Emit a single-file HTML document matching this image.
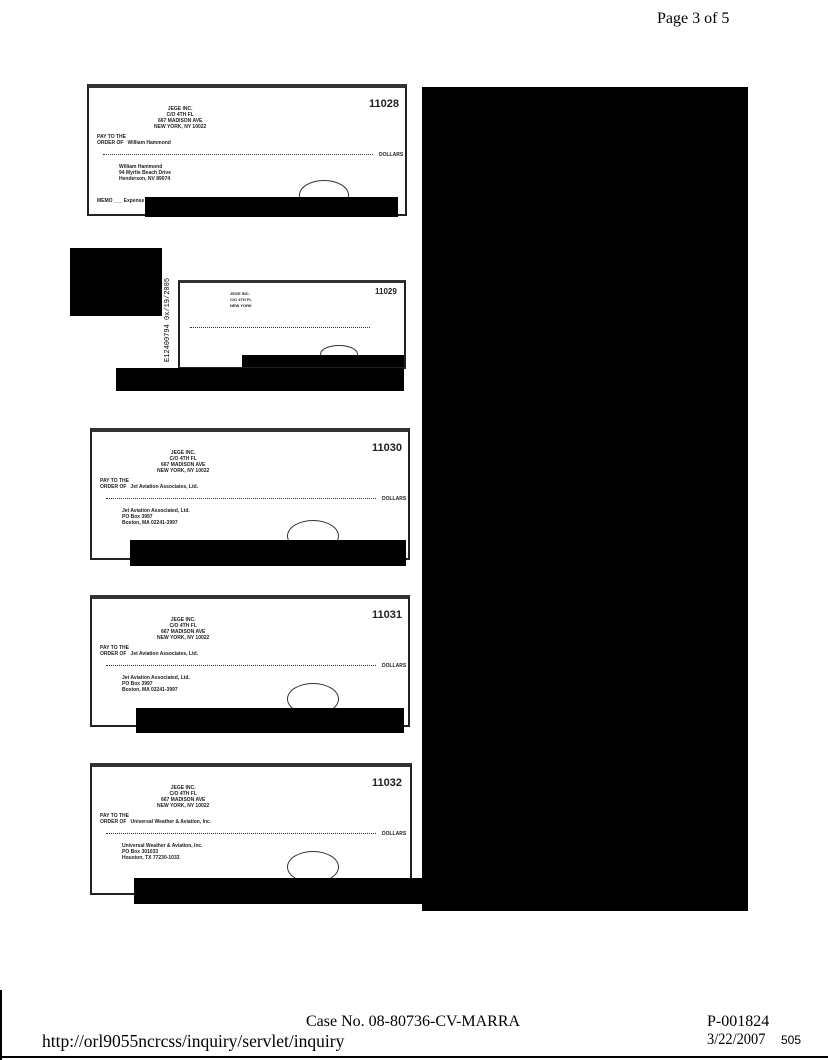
<!DOCTYPE html>
<html><head><style>
body{margin:0;width:828px;height:1060px;background:#fff;position:relative;overflow:hidden;font-family:"Liberation Serif",serif}
.a{position:absolute}
.b{position:absolute;background:#000}
.chk{position:absolute;border:2px solid #222;border-top:4px solid #333;background:#fff;font-family:"Liberation Sans",sans-serif;color:#222}
.chk .t{position:absolute;font-size:5px;font-weight:bold;line-height:6px}
.num{position:absolute;font-weight:bold;font-size:11px}
.line{position:absolute;border-top:1px dotted #333}
</style></head><body>
<div class="a" style="left:657px;top:10px;font-size:16px">Page 3 of 5</div>

<div class="chk" style="left:87px;top:84px;width:316px;height:126px">
 <div class="t" style="left:65px;top:18px;text-align:center">JEGE INC.<br>C/O 4TH FL<br>667 MADISON AVE<br>NEW YORK, NY 10022</div>
 <div class="num" style="left:280px;top:10px">11028</div>
 <div class="t" style="left:8px;top:46px">PAY TO THE<br>ORDER OF &nbsp; William Hammond</div>
 <div class="line" style="left:14px;top:66px;width:270px"></div>
 <div class="t" style="left:290px;top:64px">DOLLARS</div>
 <div class="t" style="left:30px;top:76px">William Hammond<br>94 Myrtle Beach Drive<br>Henderson, NV 89074</div>
 <div class="t" style="left:8px;top:110px">MEMO ___ Expense</div>
 <div class="a" style="left:210px;top:92px;width:48px;height:28px;border:1px solid #333;border-radius:50%"></div>
</div>
<div class="b" style="left:145px;top:197px;width:253px;height:20px"></div>

<div class="b" style="left:70px;top:248px;width:92px;height:68px"></div>
<div class="chk" style="left:178px;top:280px;width:224px;height:84px;border-top-width:3px">
 <div class="num" style="left:195px;top:4px;font-size:8px">11029</div>
 <div class="t" style="left:50px;top:8px;font-size:4px">JEGE INC.<br>C/O 4TH FL<br>NEW YORK</div>
 <div class="line" style="left:10px;top:44px;width:180px"></div>
 <div class="a" style="left:140px;top:62px;width:36px;height:16px;border:1px solid #333;border-radius:50%"></div>
</div>
<div class="b" style="left:242px;top:355px;width:162px;height:12px"></div>
<div class="b" style="left:116px;top:368px;width:288px;height:23px"></div>
<div class="a" style="left:164px;top:362px;font-size:7px;transform:rotate(-90deg);transform-origin:left top;font-family:'Liberation Mono',monospace">E12400794 0x/19/2005</div>

<div class="chk" style="left:90px;top:428px;width:316px;height:126px">
 <div class="t" style="left:65px;top:18px;text-align:center">JEGE INC.<br>C/O 4TH FL<br>667 MADISON AVE<br>NEW YORK, NY 10022</div>
 <div class="num" style="left:280px;top:10px">11030</div>
 <div class="t" style="left:8px;top:46px">PAY TO THE<br>ORDER OF &nbsp; Jet Aviation Associates, Ltd.</div>
 <div class="line" style="left:14px;top:66px;width:270px"></div>
 <div class="t" style="left:290px;top:64px">DOLLARS</div>
 <div class="t" style="left:30px;top:76px">Jet Aviation Associated, Ltd.<br>PO Box 3997<br>Boston, MA 02241-3997</div>
 <div class="a" style="left:195px;top:88px;width:50px;height:30px;border:1px solid #333;border-radius:50%"></div>
</div>
<div class="b" style="left:130px;top:540px;width:276px;height:26px"></div>

<div class="chk" style="left:90px;top:595px;width:316px;height:126px">
 <div class="t" style="left:65px;top:18px;text-align:center">JEGE INC.<br>C/O 4TH FL<br>667 MADISON AVE<br>NEW YORK, NY 10022</div>
 <div class="num" style="left:280px;top:10px">11031</div>
 <div class="t" style="left:8px;top:46px">PAY TO THE<br>ORDER OF &nbsp; Jet Aviation Associates, Ltd.</div>
 <div class="line" style="left:14px;top:66px;width:270px"></div>
 <div class="t" style="left:290px;top:64px">DOLLARS</div>
 <div class="t" style="left:30px;top:76px">Jet Aviation Associated, Ltd.<br>PO Box 3997<br>Boston, MA 02241-3997</div>
 <div class="a" style="left:195px;top:84px;width:50px;height:30px;border:1px solid #333;border-radius:50%"></div>
</div>
<div class="b" style="left:136px;top:708px;width:268px;height:25px"></div>

<div class="chk" style="left:90px;top:763px;width:318px;height:126px">
 <div class="t" style="left:65px;top:18px;text-align:center">JEGE INC.<br>C/O 4TH FL<br>667 MADISON AVE<br>NEW YORK, NY 10022</div>
 <div class="num" style="left:280px;top:10px">11032</div>
 <div class="t" style="left:8px;top:46px">PAY TO THE<br>ORDER OF &nbsp; Universal Weather &amp; Aviation, Inc.</div>
 <div class="line" style="left:14px;top:66px;width:270px"></div>
 <div class="t" style="left:290px;top:64px">DOLLARS</div>
 <div class="t" style="left:30px;top:76px">Universal Weather &amp; Aviation, Inc.<br>PO Box 301033<br>Houston, TX 77230-1033</div>
 <div class="a" style="left:195px;top:84px;width:50px;height:30px;border:1px solid #333;border-radius:50%"></div>
</div>
<div class="b" style="left:134px;top:878px;width:288px;height:26px"></div>

<div class="b" style="left:422px;top:87px;width:326px;height:824px"></div>

<div class="a" style="left:306px;top:1013px;font-size:16px">Case No. 08-80736-CV-MARRA</div>
<div class="a" style="left:42px;top:1031px;font-size:17.5px">http://orl9055ncrcss/inquiry/servlet/inquiry</div>
<div class="a" style="left:707px;top:1013px;font-size:16px">P-001824</div>
<div class="a" style="left:707px;top:1031px;font-size:16px;transform:scaleX(0.9);transform-origin:left top">3/22/2007</div>
<div class="a" style="left:781px;top:1033px;font-size:12px;font-family:'Liberation Sans',sans-serif">505</div>
<div class="b" style="left:0;top:990px;width:2px;height:70px"></div>
<div class="b" style="left:0;top:1056px;width:828px;height:2px"></div>
</body></html>
